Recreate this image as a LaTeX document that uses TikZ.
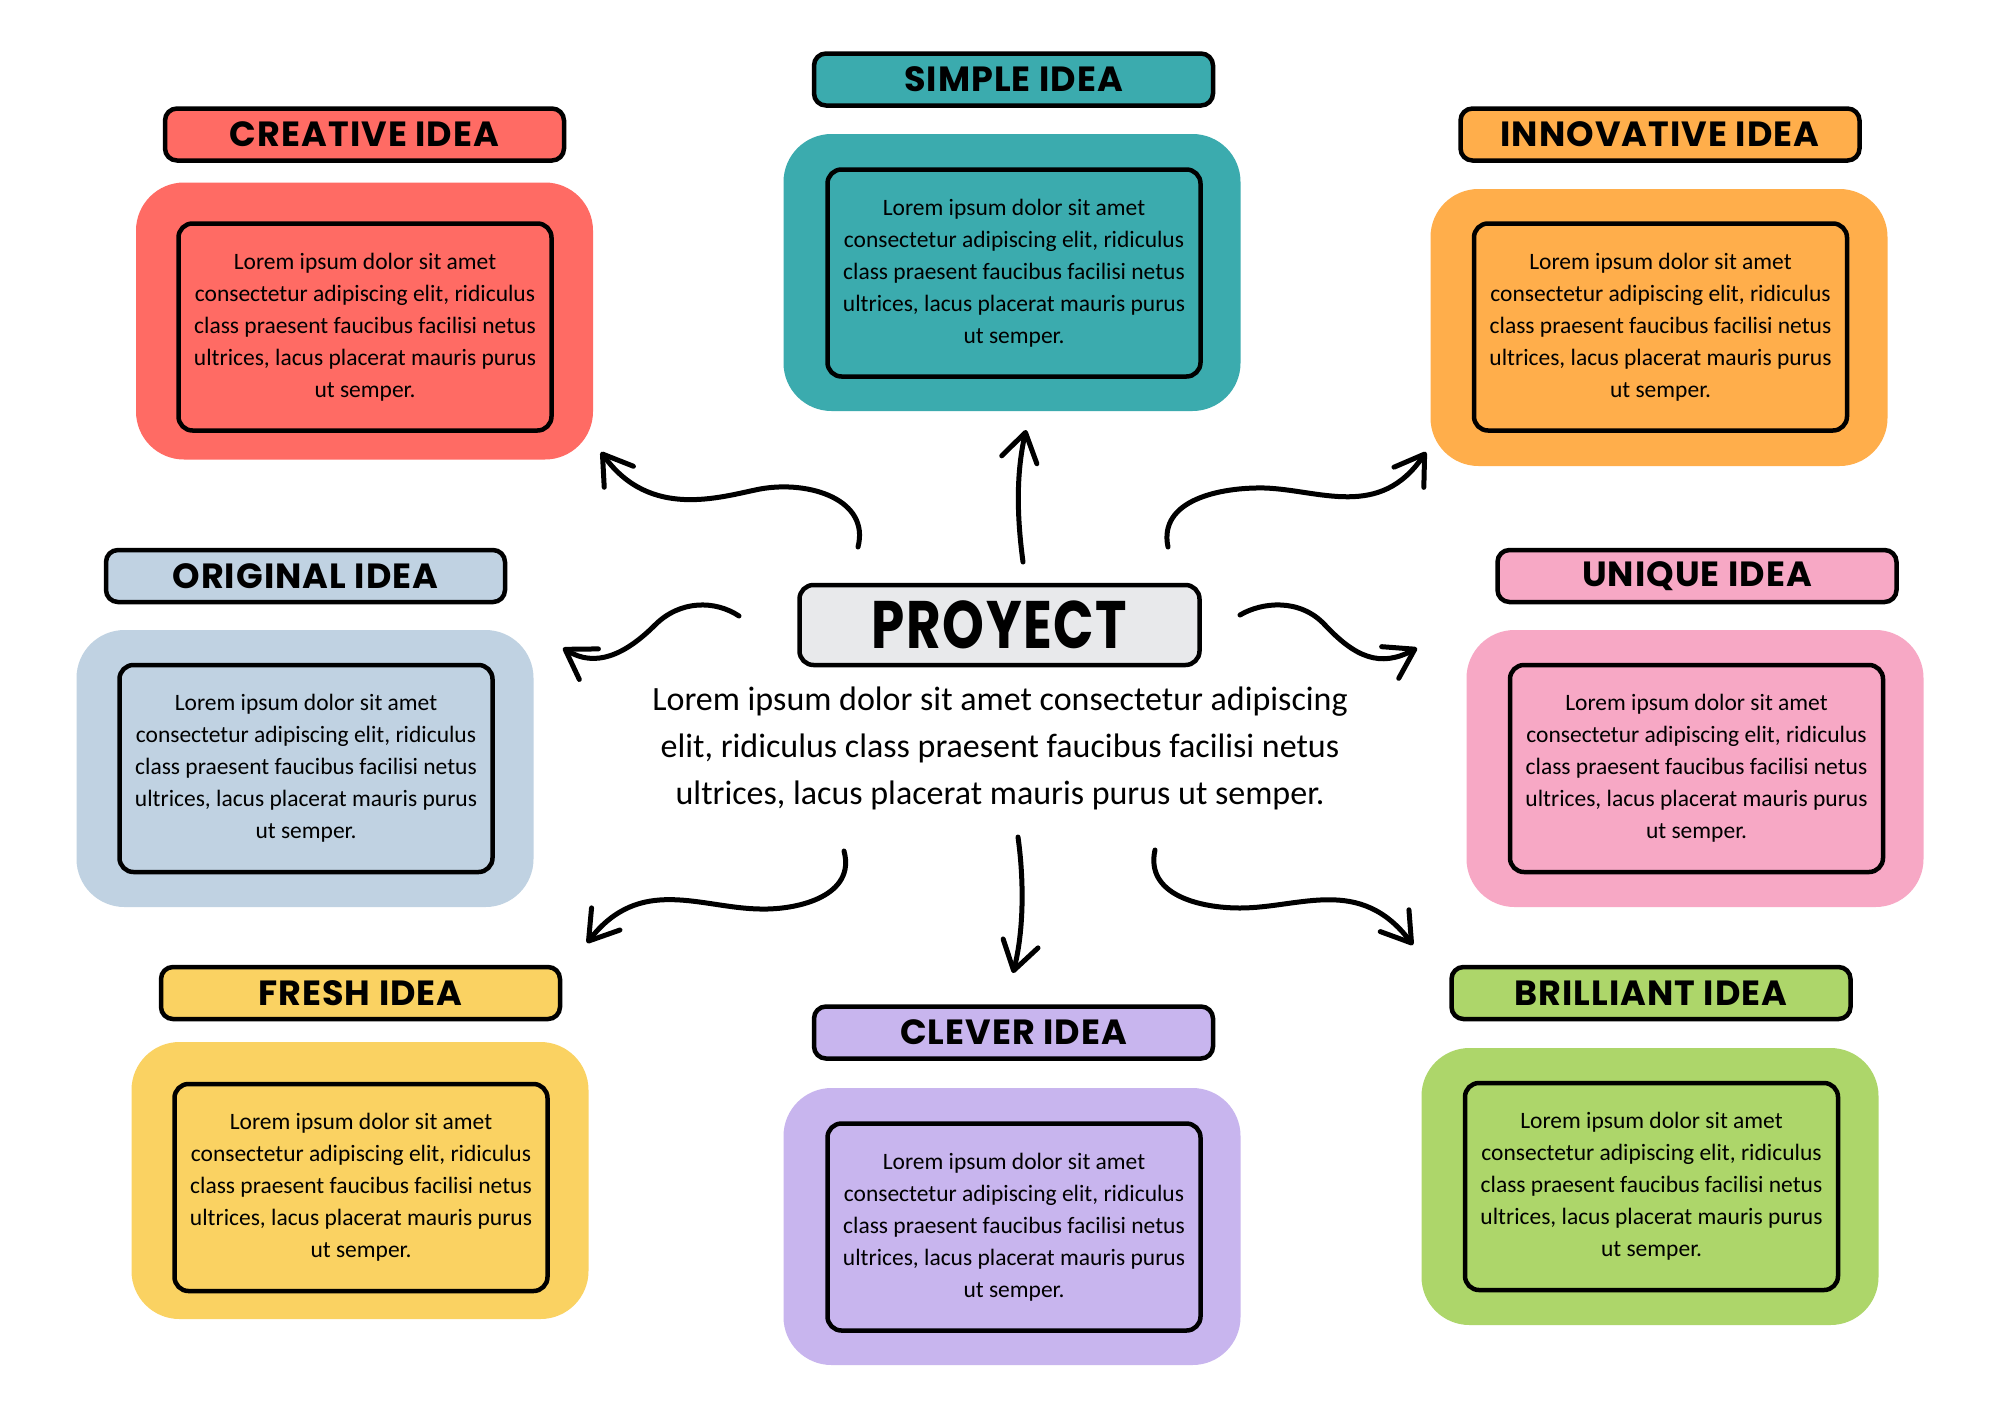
\documentclass[tikz,border=0pt]{standalone}
\usepackage{fontspec}
\usepackage{graphicx}
\setmainfont{Carlito}
\newfontfamily\titlefont[LetterSpace=3]{Poppins}
\usetikzlibrary{arrows.meta}
\definecolor{cre}{HTML}{FF6B64}
\definecolor{sim}{HTML}{3BABAE}
\definecolor{inn}{HTML}{FFAE4B}
\definecolor{ori}{HTML}{C0D2E2}
\definecolor{uni}{HTML}{F7A8C5}
\definecolor{fre}{HTML}{FAD262}
\definecolor{cle}{HTML}{C8B5EE}
\definecolor{bri}{HTML}{ADD66A}
\definecolor{pro}{HTML}{E8E9EB}
\newcommand{\loremtxt}{Lorem ipsum dolor sit amet\\consectetur adipiscing elit, ridiculus\\class praesent faucibus facilisi netus\\ultrices, lacus placerat mauris purus\\ut semper.}
\tikzset{
  outerbox/.style={rounded corners=48pt, minimum width=457pt, minimum height=277pt, inner sep=0pt},
  innerbox/.style={draw=black, line width=4.5pt, rounded corners=14pt, minimum width=373pt, minimum height=207pt, align=center, font=\fontsize{23.5}{32}\selectfont, inner sep=0pt},
  titlebox/.style={draw=black, line width=4.5pt, rounded corners=12pt, minimum width=399pt, minimum height=52pt, font=\titlefont\bfseries\fontsize{35}{35}\selectfont, inner sep=0pt},
  conn/.style={line width=5pt, line cap=round, line join=round, -{Straight Barb[length=28pt,width=36pt,round]}}
}
\begin{document}
\begin{tikzpicture}[x=1pt,y=-1pt]
\useasboundingbox[fill=white] (0,0) rectangle (2000,1414);

% CREATIVE
\node[outerbox, fill=cre] (creO) at (364.5,321) {};
\node[innerbox, fill=cre] (creI) at (365,327) {\loremtxt};
\node[titlebox, fill=cre] (creT) at (364.5,134.5) {CREATIVE IDEA};
% SIMPLE
\node[outerbox, fill=sim] (simO) at (1012,272.5) {};
\node[innerbox, fill=sim] (simI) at (1014,273) {\loremtxt};
\node[titlebox, fill=sim] (simT) at (1013.5,79.5) {SIMPLE IDEA};
% INNOVATIVE
\node[outerbox, fill=inn] (innO) at (1659,327.5) {};
\node[innerbox, fill=inn] (innI) at (1660.5,327) {\loremtxt};
\node[titlebox, fill=inn] (innT) at (1660,134.5) {INNOVATIVE IDEA};
% ORIGINAL
\node[outerbox, fill=ori] (oriO) at (305,768.5) {};
\node[innerbox, fill=ori] (oriI) at (306,768.5) {\loremtxt};
\node[titlebox, fill=ori] (oriT) at (305.5,576) {ORIGINAL IDEA};
% UNIQUE
\node[outerbox, fill=uni] (uniO) at (1695,768.5) {};
\node[innerbox, fill=uni] (uniI) at (1696.5,768.5) {\loremtxt};
\node[titlebox, fill=uni] (uniT) at (1697,576) {UNIQUE IDEA};
% FRESH
\node[outerbox, fill=fre] (freO) at (360,1180.5) {};
\node[innerbox, fill=fre] (freI) at (361,1187.5) {\loremtxt};
\node[titlebox, fill=fre] (freT) at (360.5,993) {FRESH IDEA};
% CLEVER
\node[outerbox, fill=cle] (cleO) at (1012,1226.5) {};
\node[innerbox, fill=cle] (cleI) at (1014,1227) {\loremtxt};
\node[titlebox, fill=cle] (cleT) at (1013.5,1032.5) {CLEVER IDEA};
% BRILLIANT
\node[outerbox, fill=bri] (briO) at (1650,1186.5) {};
\node[innerbox, fill=bri] (briI) at (1651.5,1186.5) {\loremtxt};
\node[titlebox, fill=bri] (briT) at (1651,993) {BRILLIANT IDEA};

% center
\node[draw=black, fill=pro, line width=4.5pt, rounded corners=14pt, minimum width=400pt, minimum height=80pt, inner sep=0pt, font=\titlefont\bfseries\fontsize{56}{56}\selectfont] (proj) at (999.5,625) {\scalebox{0.95}[1.2]{PROYECT}};
\node[align=center, font=\fontsize{34}{47}\selectfont, inner sep=0pt] (desc) at (1000,748.5) {Lorem ipsum dolor sit amet consectetur adipiscing\\elit, ridiculus class praesent faucibus facilisi netus\\ultrices, lacus placerat mauris purus ut semper.};

% connector coordinates
\coordinate (s1) at (858,547);  \coordinate (t1) at (601,452);
\coordinate (s2) at (739,616);  \coordinate (t2) at (563,648);
\coordinate (s3) at (1023,562); \coordinate (t3) at (1026,430);
\coordinate (s4) at (1168,547); \coordinate (t4) at (1426,452);
\coordinate (s5) at (1240,615); \coordinate (t5) at (1417,648);
\coordinate (s6) at (844,851);  \coordinate (t6) at (587,943);
\coordinate (s7) at (1018,837); \coordinate (t7) at (1013,973);
\coordinate (s8) at (1155,850); \coordinate (t8) at (1413,945);

\draw[conn] (s1) .. controls (870,500) and (810,480) .. (760,489) .. controls (720,497) and (650,520) .. (t1);
\draw[conn] (s2) .. controls (715,600) and (680,600) .. (655,625) .. controls (625,655) and (595,668) .. (t2);
\draw[conn] (s3) .. controls (1016,510) and (1017,470) .. (t3);
\draw[conn] (s4) .. controls (1158,500) and (1220,487) .. (1265,488) .. controls (1320,490) and (1380,520) .. (t4);
\draw[conn] (s5) .. controls (1262,602) and (1300,598) .. (1325,625) .. controls (1355,657) and (1380,668) .. (t5);
\draw[conn] (s6) .. controls (856,895) and (800,910) .. (760,909) .. controls (700,908) and (640,875) .. (t6);
\draw[conn] (s7) .. controls (1024,880) and (1024,930) .. (t7);
\draw[conn] (s8) .. controls (1145,895) and (1200,908) .. (1240,908) .. controls (1300,908) and (1360,875) .. (t8);
\end{tikzpicture}
\end{document}
